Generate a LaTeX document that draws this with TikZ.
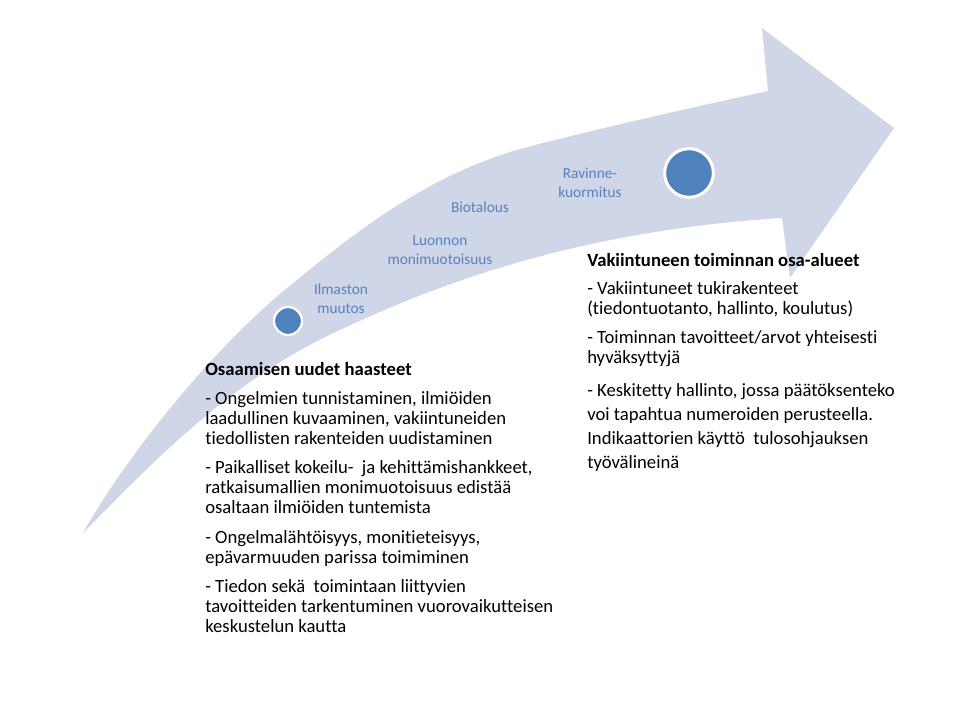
\documentclass[tikz,border=0pt]{standalone}
\usepackage{fontspec}
\setmainfont[Ligatures=NoCommon]{Carlito}
\definecolor{arrowfill}{RGB}{206,214,231}
\definecolor{dotblue}{RGB}{79,129,189}
\definecolor{labelblue}{RGB}{88,128,190}
\newcommand{\leftlines}[1]{\begin{tabular}[t]{@{}l@{}}#1\end{tabular}}
\newcommand{\midlines}[1]{\begin{tabular}[t]{@{}c@{}}#1\end{tabular}}
\tikzset{
  bodytext/.style={anchor=base west, inner sep=0pt, text=black,
    font=\fontsize{14}{15}\selectfont},
  bodytextwide/.style={bodytext, font=\fontsize{14}{18}\selectfont},
  headtext/.style={anchor=base west, inner sep=0pt, text=black,
    font=\fontsize{14}{15}\selectfont\bfseries},
  steplabel/.style={anchor=base, inner sep=0pt, text=labelblue,
    font=\fontsize{11.5}{14}\selectfont},
  smalldot/.style={circle, fill=dotblue, draw=white, line width=1.7pt,
    inner sep=0pt, minimum size=21pt},
  bigdot/.style={circle, fill=dotblue, draw=white, line width=2.25pt,
    inner sep=0pt, minimum size=36.5pt}
}
\begin{document}
\begin{tikzpicture}[x=0.75pt,y=-0.75pt]
\useasboundingbox (0,0) rectangle (960,720);
% curved arrow
\fill[arrowfill] (83,533)
  .. controls (130,450) and (220,340) .. (297,280)
  .. controls (360,228) and (430,175) .. (520,149)
  .. controls (600,128) and (690,108) .. (768,91)
  -- (762,28) -- (894,128) -- (790,278) -- (782,218)
  .. controls (590,230) and (450,278) .. (340,330)
  .. controls (230,380) and (150,465) .. (83,533) -- cycle;
% dots
\node[smalldot] (d1) at (288,321) {};
\node[bigdot] (d2) at (689,173) {};
% step labels
\node[steplabel] (l1) at (341,295) {\midlines{Ilmaston\\muutos}};
\node[steplabel] (l2) at (440,246) {\midlines{Luonnon\\monimuotoisuus}};
\node[steplabel] (l3) at (480,213) {Biotalous};
\node[steplabel] (l4) at (590,179) {\midlines{Ravinne-\\kuormitus}};
% left block
\node[headtext] (lh) at (205,375) {Osaamisen uudet haasteet};
\node[bodytext] (lp1) at (205,404) {\leftlines{- Ongelmien tunnistaminen, ilmiöiden\\laadullinen kuvaaminen, vakiintuneiden\\tiedollisten rakenteiden uudistaminen}};
\node[bodytext] (lp2) at (205,473) {\leftlines{- Paikalliset kokeilu-\ \ ja kehittämishankkeet,\\ratkaisumallien monimuotoisuus edistää\\osaltaan ilmiöiden tuntemista}};
\node[bodytext] (lp3) at (205,543) {\leftlines{- Ongelmalähtöisyys, monitieteisyys,\\epävarmuuden parissa toimiminen}};
\node[bodytext] (lp4) at (205,592) {\leftlines{- Tiedon sekä\ \ toimintaan liittyvien\\tavoitteiden tarkentuminen vuorovaikutteisen\\keskustelun kautta}};
% right block
\node[headtext] (rh) at (587,267) {Vakiintuneen toiminnan osa-alueet};
\node[bodytext] (rp1) at (587,295) {\leftlines{- Vakiintuneet tukirakenteet\\(tiedontuotanto, hallinto, koulutus)}};
\node[bodytext] (rp2) at (587,343) {\leftlines{- Toiminnan tavoitteet/arvot yhteisesti\\hyväksyttyjä}};
\node[bodytextwide] (rp3) at (587,396) {\leftlines{- Keskitetty hallinto, jossa päätöksenteko\\voi tapahtua numeroiden perusteella.\\Indikaattorien käyttö\ \ tulosohjauksen\\työvälineinä}};
\end{tikzpicture}
\end{document}
